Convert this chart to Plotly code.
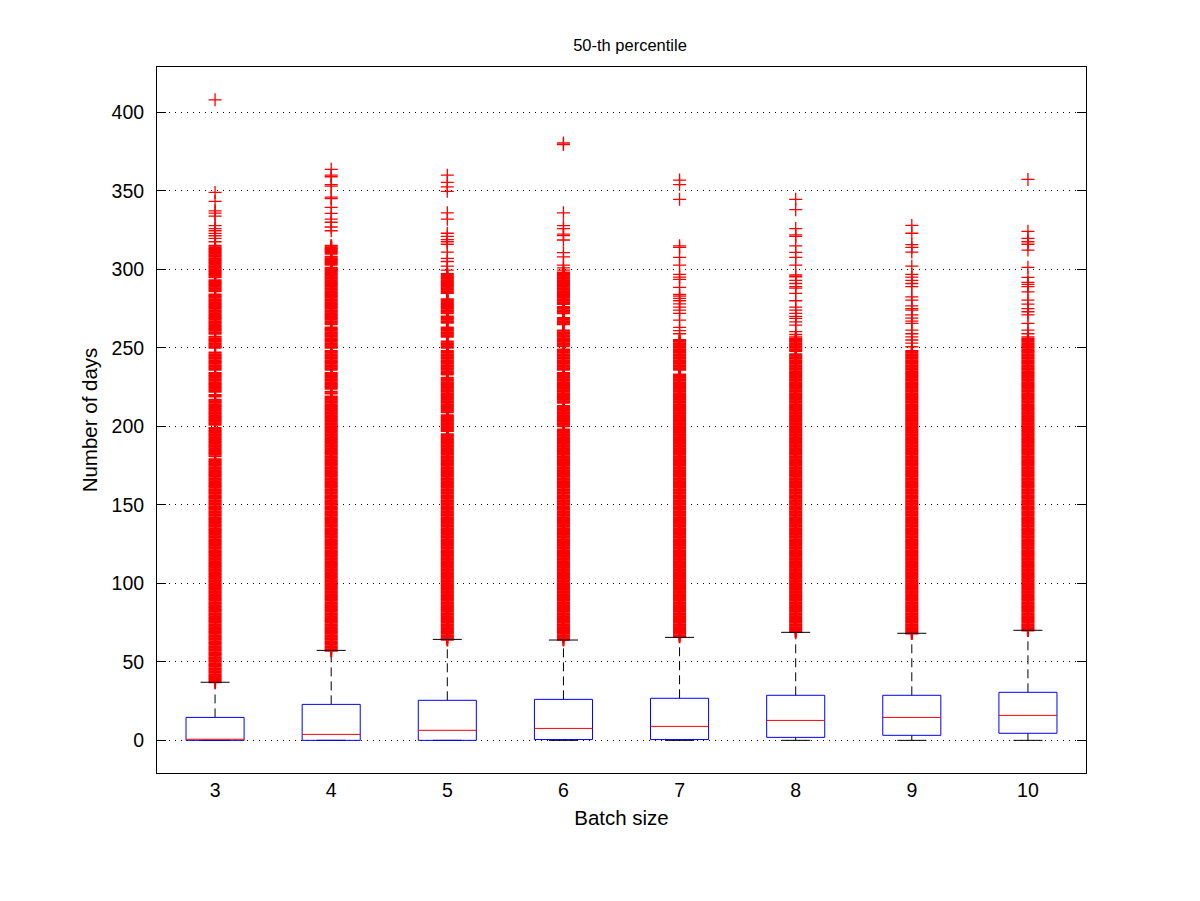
import plotly.graph_objects as go

# ---- data ----
batch_sizes = [3, 4, 5, 6, 7, 8, 9, 10]
q1 = [0, 0, 0, 0.5, 0.5, 1.9, 3.2, 4.5]
medians = [0.7, 3.8, 6.4, 7.6, 8.9, 12.7, 14.6, 15.9]
q3 = [14.6, 22.9, 25.5, 26.1, 26.8, 28.7, 28.7, 30.6]
lower_whisker = [0, 0, 0, 0, 0, 0, 0, 0]
upper_whisker = [37, 57.3, 64.3, 63.9, 65.6, 68.8, 68.2, 70.1]

# dense runs of outliers (every whole day inside each run)
outlier_runs_3 = [[37, 179], [181, 199], [201, 217], [219, 220], [222, 234], [236, 247],
                  [250, 257], [259, 271], [272, 284], [286, 293], [295, 301], [302, 312], [313, 315]]
outlier_runs_4 = [[57, 219], [221, 222], [224, 234], [236, 248], [250, 263], [265, 271],
                  [272, 282], [283, 301], [303, 308], [310, 315]]
outlier_runs_5 = [[64, 195], [197, 207], [209, 222], [223, 231], [233, 241], [242, 248],
                  [250, 254], [257, 263], [266, 270], [272, 281], [285, 292], [293, 297]]
outlier_runs_6 = [[64, 198], [200, 213], [215, 219], [220, 221], [222, 234], [236, 249],
                  [251, 261], [265, 269], [272, 276], [278, 290], [291, 298]]
outlier_runs_7 = [[66, 220], [221, 233], [236, 243], [244, 255]]
outlier_runs_8 = [[69, 246], [248, 256]]
outlier_runs_9 = [[68, 248]]
outlier_runs_10 = [[70, 247], [248, 256]]

# sparse single outliers
outliers_3 = [317.6, 319.7, 321.4, 322.9, 324.6, 326, 327.8, 333.9, 335.8, 337.3, 343.3, 349, 408]
outliers_4 = [324.6, 327, 330, 332, 335.7, 339.5, 345, 346, 353, 354, 359, 360, 363.7]
outliers_5 = [299.5, 302, 305, 307, 311, 316, 317.6, 319, 321, 323, 332, 336,
              349.7, 352.6, 355.4, 360]
outliers_6 = [299.5, 301, 302.7, 308, 310.6, 318.7, 321.5, 322.5, 326, 327.8, 336, 379.5, 380.5]
outliers_7 = [259, 261, 263, 267.7, 272, 274, 276, 278, 280, 281.5, 283, 284, 288.5, 293.6,
              295, 296.8, 302.7, 307.6, 314, 315, 344.6, 354, 356.9]
outliers_8 = [257, 258.5, 260.3, 264.5, 266.6, 268.8, 270, 272, 274, 276, 280, 284.7, 288, 289,
              291, 293, 295.3, 296.4, 302.7, 307.6, 310.8, 315, 321, 322, 326, 338, 344.6]
outliers_9 = [250.7, 253, 255, 257, 259, 261.3, 265.6, 267, 269, 271, 274, 275, 276.8, 280.4,
              282.5, 289, 291, 293, 295, 296.8, 302, 311, 314, 315.7, 323, 328]
outliers_10 = [257, 259, 261.3, 265.6, 271, 273, 275, 277.9, 280.4, 285.7, 289, 290.5, 291.7,
               294.9, 301.3, 312.3, 316, 317.6, 319.7, 324.2, 357.3]

y_ticks = [0, 50, 100, 150, 200, 250, 300, 350, 400]

all_runs = [outlier_runs_3, outlier_runs_4, outlier_runs_5, outlier_runs_6,
            outlier_runs_7, outlier_runs_8, outlier_runs_9, outlier_runs_10]
all_singles = [outliers_3, outliers_4, outliers_5, outliers_6,
               outliers_7, outliers_8, outliers_9, outliers_10]

# ---- build geometry ----
pos = list(range(1, len(batch_sizes) + 1))
BOX_HALF = 0.25
CAP_HALF = 0.125

wx, wy = [], []
cx, cy = [], []
bx, by = [], []
mx, my = [], []
rx, ry = [], []
sx, sy = [], []
for i, p in enumerate(pos):
    wx += [p, p, None, p, p, None]
    wy += [q3[i], upper_whisker[i], None, q1[i], lower_whisker[i], None]
    cx += [p - CAP_HALF, p + CAP_HALF, None, p - CAP_HALF, p + CAP_HALF, None]
    cy += [upper_whisker[i], upper_whisker[i], None, lower_whisker[i], lower_whisker[i], None]
    bx += [p - BOX_HALF, p + BOX_HALF, p + BOX_HALF, p - BOX_HALF, p - BOX_HALF, None]
    by += [q1[i], q1[i], q3[i], q3[i], q1[i], None]
    mx += [p - BOX_HALF, p + BOX_HALF, None]
    my += [medians[i], medians[i], None]
    vals = []
    for lo, hi in all_runs[i]:
        vals += list(range(int(lo), int(hi) + 1))
    rx += [p] * len(vals)
    ry += vals
    sx += [p] * len(all_singles[i])
    sy += all_singles[i]

fig = go.Figure()
fig.add_trace(go.Scatter(x=wx, y=wy, mode="lines",
                         line=dict(color="black", width=1, dash="9px,5px"), hoverinfo="skip"))
fig.add_trace(go.Scatter(x=rx, y=ry, mode="markers",
                         marker=dict(symbol="cross-thin", size=9.3,
                                     line=dict(color="red", width=2)),
                         hoverinfo="skip"))
fig.add_trace(go.Scatter(x=sx, y=sy, mode="markers",
                         marker=dict(symbol="cross-thin", size=9.3,
                                     line=dict(color="red", width=1.3)),
                         hoverinfo="skip"))
fig.add_trace(go.Scatter(x=cx, y=cy, mode="lines",
                         line=dict(color="black", width=1), hoverinfo="skip"))
fig.add_trace(go.Scatter(x=bx, y=by, mode="lines",
                         line=dict(color="blue", width=1), hoverinfo="skip"))
fig.add_trace(go.Scatter(x=mx, y=my, mode="lines",
                         line=dict(color="red", width=1), hoverinfo="skip"))

font_family = "Liberation Sans, Arial, Helvetica, sans-serif"

fig.update_layout(
    width=1200, height=901,
    margin=dict(l=157, r=114, t=67, b=128),
    paper_bgcolor="white", plot_bgcolor="white",
    showlegend=False,
    font=dict(family=font_family, color="black", size=20),
    title=dict(text="50-th percentile", x=630 / 1200, xanchor="center",
               y=1 - 45 / 901, yanchor="middle", font=dict(size=16.5, family=font_family)),
    xaxis=dict(range=[0.5, 8.5], tickmode="array", tickvals=pos,
               ticktext=[str(b) for b in batch_sizes],
               showgrid=False, zeroline=False, ticks="",
               showline=True, linecolor="black", linewidth=1, mirror=True,
               title=dict(text="Batch size", font=dict(size=20.5), standoff=10),
               tickfont=dict(size=19.5)),
    yaxis=dict(range=[-20.8, 428.9], tickmode="array", tickvals=y_ticks,
               ticks="inside", ticklen=9, tickcolor="black",
               showgrid=True, gridcolor="black", gridwidth=1, griddash="1px,5px",
               zeroline=False,
               showline=True, linecolor="black", linewidth=1, mirror="ticks",
               ticklabelstandoff=8,
               title=dict(text="Number of days", font=dict(size=20.5), standoff=8),
               tickfont=dict(size=19.5)),
)

fig.write_html("out.html")
